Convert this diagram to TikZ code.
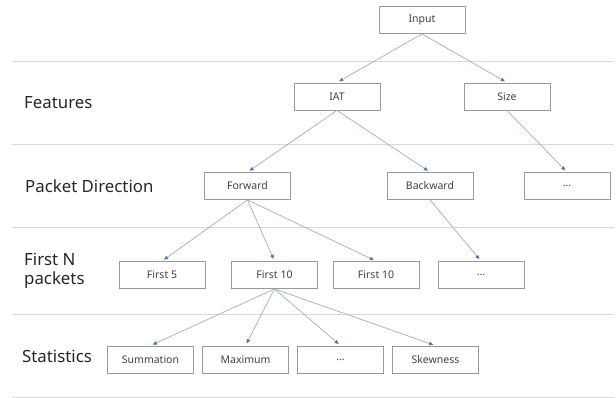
\documentclass[tikz,border=0pt]{standalone}
\usepackage{fontspec}
\setmainfont{Noto Sans}
\usetikzlibrary{arrows.meta}
\definecolor{boxline}{HTML}{9A9A9A}
\definecolor{arrline}{HTML}{9DAFC6}
\definecolor{arrtip}{HTML}{4A6FB5}
\definecolor{sepline}{HTML}{D9D9D9}
\begin{document}
\begin{tikzpicture}[x=1pt,y=-1pt,
        box/.style={draw=boxline, line width=0.8pt, minimum width=86pt, minimum height=27pt, inner sep=0pt, font=\fontsize{10.5}{12}\selectfont, text=black!75},
        lvl/.style={anchor=west, inner sep=0pt, align=left, font=\fontsize{16.8}{19}\selectfont, text=black!85},
        link/.style={draw=arrline, line width=0.7pt, -{Triangle[length=4pt,width=3.5pt,color=arrtip]}, shorten >=2.5pt},
        sep/.style={draw=sepline, line width=1pt}]
        \useasboundingbox (0,0) rectangle (616,398);
        %separators
        \foreach \y in {62,145,228,314,397}
            \draw[sep] (12,\y) -- (614,\y);
        %levels
        \node[lvl] (features) at (24,103) {Features};
        \node[lvl] (direction) at (25,186) {Packet Direction};
        \node[lvl] (firstn) at (24,271) {First N\\packets};
        \node[lvl] (statistics) at (22,356) {Statistics};
        %boxes
        \node[box] (input) at (422,20) {Input};
        \node[box] (iat) at (337,96.5) {IAT};
        \node[box] (size) at (507,96.5) {Size};
        \node[box] (forward) at (247.5,186) {Forward};
        \node[box] (backward) at (430,186) {Backward};
        \node[box] (dirmore) at (567,186) {...};
        \node[box] (first5) at (162,275) {First 5};
        \node[box] (first10) at (274.5,275) {First 10};
        \node[box] (first10b) at (376,275) {First 10};
        \node[box] (firstmore) at (481,275) {...};
        \node[box] (summation) at (150.5,359.5) {Summation};
        \node[box] (maximum) at (245.5,359.5) {Maximum};
        \node[box] (statmore) at (340.5,359.5) {...};
        \node[box] (skewness) at (435.5,359.5) {Skewness};
        %links
        \draw[link] (input.south) -- (iat.north);
        \draw[link] (input.south) -- (size.north);
        \draw[link] (iat.south) -- (forward.north);
        \draw[link] (iat.south) -- (backward.north);
        \draw[link] (size.south) -- (dirmore.north);
        \draw[link] (forward.south) -- (first5.north);
        \draw[link] (forward.south) -- (first10.north);
        \draw[link] (forward.south) -- (first10b.north);
        \draw[link] (backward.south) -- (firstmore.north);
        \draw[link] (first10.south) -- (summation.north);
        \draw[link] (first10.south) -- (maximum.north);
        \draw[link] (first10.south) -- (statmore.north);
        \draw[link] (first10.south) -- (skewness.north);
    \end{tikzpicture}
\end{document}
